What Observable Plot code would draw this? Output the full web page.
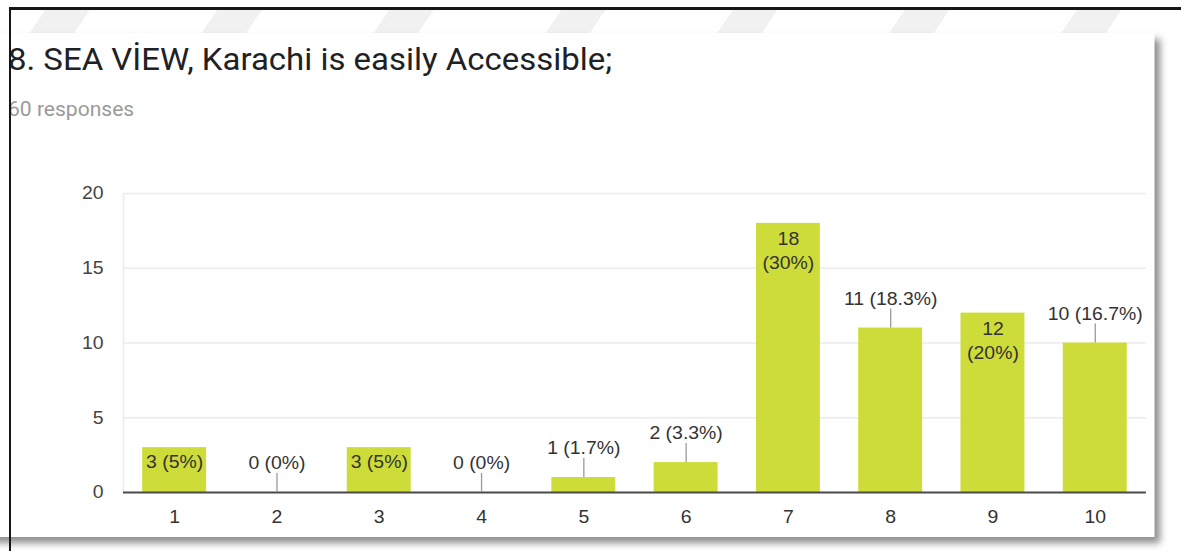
<!DOCTYPE html>
<html>
<head>
<meta charset="utf-8">
<script src="https://cdn.jsdelivr.net/npm/d3@7"></script>
<script src="https://cdn.jsdelivr.net/npm/@observablehq/plot@0.6"></script>
<style>
  html, body { margin: 0; padding: 0; }
  body { width: 1181px; height: 551px; overflow: hidden; background: #fff; position: relative; }
  /* the sheet is laid out slightly narrower, then widened horizontally */
  .stage { position: absolute; left: 0; top: 0; width: 1094px; height: 551px; transform: scaleX(1.08); transform-origin: 0 0; }
  .band { position: absolute; left: 10px; top: 10px; width: 1084px; height: 24px;
          background: repeating-linear-gradient(-58deg, #ffffff 0 60px, #f1f1f1 60px 95px, #ffffff 95px 135px); }
  .card { position: absolute; left: -18.5px; top: 33px; width: 1087px; height: 504px; background: #fff;
          box-shadow: 5px 6px 7px rgba(0,0,0,0.45); }
  .title { position: absolute; left: 25.9px; top: 12.3px; font: 400 30.5px/1 Roboto, "Noto Sans", sans-serif; color: #202124; white-space: nowrap; }
  .sub { position: absolute; left: 25.9px; top: 66.6px; font: 400 19.5px/1 Roboto, "Noto Sans", sans-serif; color: #9a9a9a; white-space: nowrap; }
  #chart { position: absolute; left: 18.5px; top: 117px; width: 1075px; }
  #chart svg { max-width: none; }
  .edge-top { position: absolute; left: 9px; top: 7px; width: 1172px; height: 3px; background: #161616; }
  .edge-left { position: absolute; left: 9px; top: 7px; width: 2px; height: 544px; background: #161616; }
</style>
</head>
<body>
<div class="stage">
  <div class="band"></div>
  <div class="card">
    <div class="title">8. SEA VİEW, Karachi is easily Accessible;</div>
    <div class="sub">60 responses</div>
    <div id="chart"></div>
  </div>
</div>
<div class="edge-top"></div>
<div class="edge-left"></div>
<script>
// Answers on the 1–10 scale and how many respondents picked each
const categories = ["1", "2", "3", "4", "5", "6", "7", "8", "9", "10"];
const counts = [3, 0, 3, 0, 1, 2, 18, 11, 12, 10];
const totalResponses = 60;
const yTicks = [0, 5, 10, 15, 20];

const W = 1074, H = 385;
const M = {top: 43, right: 13, bottom: 43, left: 113.9};
const barColor = "#cddc39";
const labelFont = "'Liberation Sans', Arial, sans-serif";
const fontPx = 18;
const xBand = {paddingInner: 0.375, paddingOuter: 0.1875, round: false};

const xScale = Plot.scale({x: {type: "band", domain: categories, range: [M.left, W - M.right], ...xBand}});
const yScale = Plot.scale({y: {type: "linear", domain: [0, 20], range: [H - M.bottom, M.top]}});

const ctx = document.createElement("canvas").getContext("2d");
ctx.font = `${fontPx}px ${labelFont}`;
const textWidth = (s) => ctx.measureText(s).width;

const pct = (c) => +(c / totalResponses * 100).toFixed(1) + "%";

// Each value label sits inside its bar (on one or two lines) when it fits, otherwise above it with a leader
const rows = categories.map((cat, i) => {
  const count = counts[i];
  const one = `${count} (${pct(count)})`;
  const room = xScale.bandwidth - 4;
  const barPx = yScale.apply(0) - yScale.apply(count);
  let place = "above";
  if (textWidth(one) <= room && barPx >= 24) place = "inside";
  else if (Math.max(textWidth(String(count)), textWidth(`(${pct(count)})`)) <= room && barPx >= 52) place = "inside2";
  return {
    cat, count, place,
    label: place === "inside2" ? `${count}\n(${pct(count)})` : one,
    leaderTop: yScale.invert(yScale.apply(count) - 19)
  };
});

const chart = Plot.plot({
  width: W, height: H,
  marginTop: M.top, marginRight: M.right, marginBottom: M.bottom, marginLeft: M.left,
  style: {fontFamily: labelFont, fontSize: `${fontPx}px`, background: "transparent", color: "#222", overflow: "visible", maxWidth: "none"},
  x: {type: "band", domain: categories, ...xBand, label: null},
  y: {domain: [0, 20], label: null},
  marks: [
    Plot.ruleY(yTicks.filter((t) => t > 0), {stroke: "#ebebeb", strokeWidth: 1.5}),
    Plot.frame({anchor: "left", stroke: "#ebebeb", strokeWidth: 1.4}),
    Plot.axisY({ticks: yTicks, tickSize: 0, tickPadding: 18.5, fill: "#444", fontSize: fontPx}),
    Plot.axisX({tickSize: 0, tickPadding: 18, fill: "#333", fontSize: fontPx}),
    Plot.barY(rows, {x: "cat", y: "count", fill: barColor}),
    Plot.ruleY([0], {stroke: "#4a4a4a", strokeWidth: 2}),
    Plot.ruleX(rows.filter((d) => d.place === "above"), {x: "cat", y1: "count", y2: "leaderTop", stroke: "#999", strokeWidth: 1.2}),
    Plot.text(rows.filter((d) => d.place === "above"), {x: "cat", y: "count", text: "label", dy: -29, fill: "#333", fontSize: fontPx}),
    Plot.text(rows.filter((d) => d.place === "inside"), {x: "cat", y: "count", text: "label", dy: 15, fill: "#333", fontSize: fontPx}),
    Plot.text(rows.filter((d) => d.place === "inside2"), {x: "cat", y: "count", text: "label", dy: 26, lineHeight: 1.333, fill: "#333", fontSize: fontPx})
  ]
});
document.getElementById("chart").appendChild(chart);
</script>
</body>
</html>
